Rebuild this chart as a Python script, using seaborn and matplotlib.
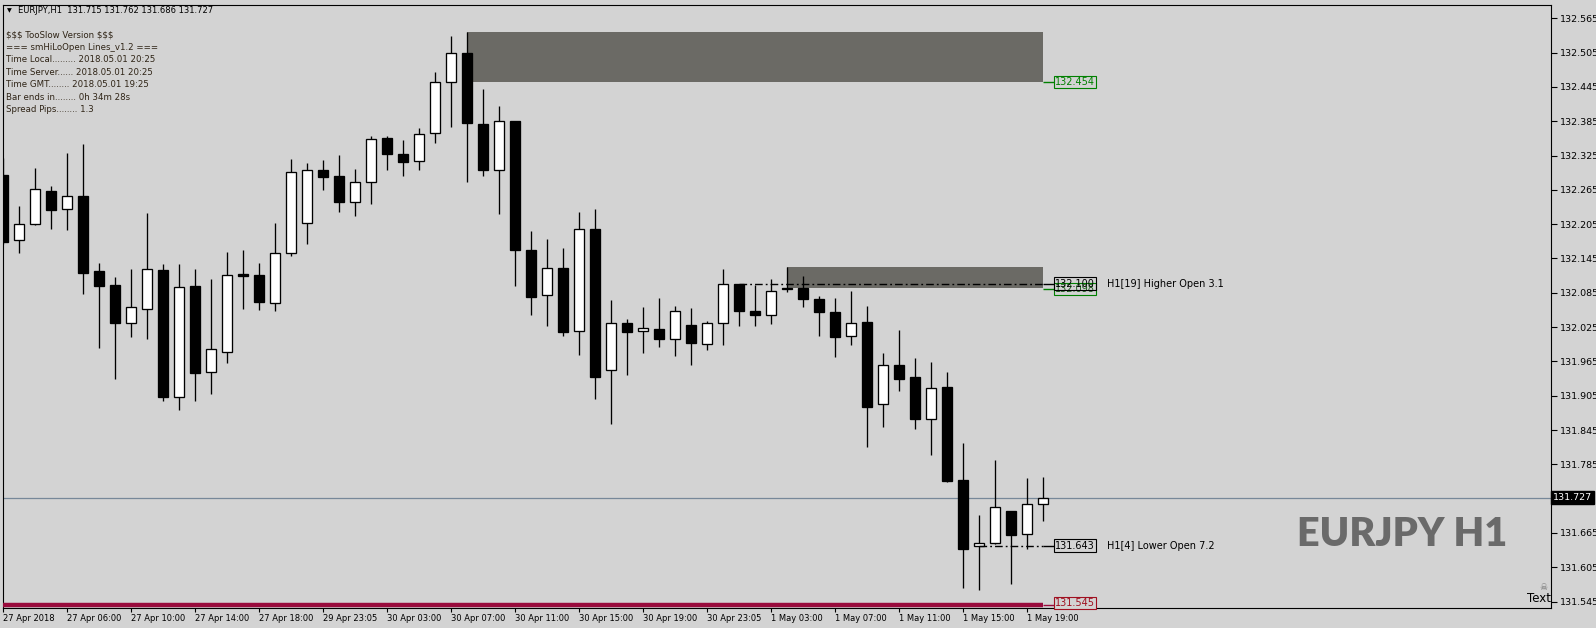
import numpy as np
import pandas as pd
import matplotlib
matplotlib.use("Agg")
import matplotlib.pyplot as plt
import seaborn as sns

# ---------------- data ----------------
symbol_header = "EURJPY,H1  131.715 131.762 131.686 131.727"
info_lines = [
    "$$$ TooSlow Version $$$",
    "=== smHiLoOpen Lines_v1.2 ===",
    "Time Local......... 2018.05.01 20:25",
    "Time Server...... 2018.05.01 20:25",
    "Time GMT........ 2018.05.01 19:25",
    "Bar ends in........ 0h 34m 28s",
    "Spread Pips........ 1.3",
]

opens = [132.291, 132.177, 132.205, 132.263, 132.231, 132.254, 132.123, 132.099, 132.033, 132.057,
         132.125, 131.903, 132.097, 131.946, 131.981, 132.118, 132.116, 132.068, 132.154, 132.207,
         132.299, 132.289, 132.243, 132.278, 132.356, 132.328, 132.315, 132.364, 132.453, 132.504,
         132.380, 132.299, 132.385, 132.159, 132.081, 132.128, 132.018, 132.196, 131.950, 132.032,
         132.019, 132.021, 132.005, 132.028, 131.996, 132.033, 132.100, 132.054, 132.047, 132.094,
         132.093, 132.075, 132.051, 132.009, 132.034, 131.891, 131.958, 131.938, 131.864, 131.920,
         131.758, 131.643, 131.647, 131.703, 131.663, 131.715]
highs = [132.320, 132.237, 132.303, 132.272, 132.329, 132.345, 132.137, 132.113, 132.127, 132.225,
         132.135, 132.135, 132.127, 132.109, 132.156, 132.160, 132.137, 132.207, 132.319, 132.312,
         132.317, 132.326, 132.301, 132.359, 132.359, 132.352, 132.373, 132.471, 132.534, 132.541,
         132.441, 132.412, 132.386, 132.193, 132.179, 132.163, 132.226, 132.232, 132.072, 132.039,
         132.060, 132.076, 132.062, 132.058, 132.035, 132.127, 132.101, 132.098, 132.109, 132.130,
         132.114, 132.079, 132.076, 132.088, 132.062, 131.980, 132.020, 131.971, 131.964, 131.947,
         131.822, 131.696, 131.793, 131.704, 131.761, 131.762]
lows = [132.170, 132.155, 132.204, 132.197, 132.194, 132.083, 131.989, 131.935, 132.007, 132.005,
        131.895, 131.880, 131.895, 131.908, 131.963, 132.057, 132.055, 132.054, 132.150, 132.171,
        132.265, 132.227, 132.220, 132.241, 132.300, 132.290, 132.300, 132.347, 132.375, 132.279,
        132.290, 132.223, 132.097, 132.047, 132.027, 132.010, 131.977, 131.900, 131.856, 131.942,
        131.980, 131.991, 131.975, 131.959, 131.985, 131.994, 132.027, 132.027, 132.031, 132.087,
        132.061, 132.010, 131.972, 131.993, 131.816, 131.851, 131.914, 131.847, 131.802, 131.755,
        131.568, 131.566, 131.645, 131.575, 131.637, 131.686]
closes = [132.174, 132.205, 132.266, 132.230, 132.254, 132.120, 132.097, 132.033, 132.060, 132.126,
          131.903, 132.095, 131.944, 131.987, 132.116, 132.115, 132.069, 132.154, 132.296, 132.299,
          132.288, 132.243, 132.278, 132.354, 132.328, 132.314, 132.363, 132.454, 132.504, 132.382,
          132.300, 132.385, 132.160, 132.078, 132.128, 132.017, 132.196, 131.938, 132.032, 132.017,
          132.023, 132.005, 132.053, 131.998, 132.033, 132.100, 132.054, 132.047, 132.089, 132.092,
          132.075, 132.052, 132.007, 132.033, 131.886, 131.958, 131.935, 131.864, 131.918, 131.756,
          131.637, 131.648, 131.710, 131.662, 131.715, 131.727]

xtick_labels = ["27 Apr 2018", "27 Apr 06:00", "27 Apr 10:00", "27 Apr 14:00", "27 Apr 18:00",
                "29 Apr 23:05", "30 Apr 03:00", "30 Apr 07:00", "30 Apr 11:00", "30 Apr 15:00",
                "30 Apr 19:00", "30 Apr 23:05", "1 May 03:00", "1 May 07:00", "1 May 11:00",
                "1 May 15:00", "1 May 19:00"]
ytick_labels = ["132.565", "132.505", "132.445", "132.385", "132.325", "132.265", "132.205",
                "132.145", "132.085", "132.025", "131.965", "131.905", "131.845", "131.785",
                "131.665", "131.605", "131.545"]

zone_starts = [29, 49]
zone_tops = [132.541, 132.130]
zone_bottoms = [132.454, 132.094]
zone_labels = ["132.454", "132.098"]

higher_open_bar, higher_open_price, higher_open_text = 46, 132.100, "H1[19] Higher Open 3.1"
lower_open_bar, lower_open_price, lower_open_text = 61, 131.643, "H1[4] Lower Open 7.2"
low_line_price = 131.545
current_price = 131.727
watermark = "EURJPY H1"

# ---------------- style ----------------
BG = "#d3d3d3"
sns.set_theme(style="white", rc={"axes.facecolor": BG, "figure.facecolor": BG})
plt.rcParams["font.family"] = ["DejaVu Sans"]
plt.rcParams["text.parse_math"] = False

df = pd.DataFrame({"o": opens, "h": highs, "l": lows, "c": closes})
df["x"] = np.arange(len(df))
df["bull"] = df["c"] >= df["o"]

W, H = 1596, 628
fig = plt.figure(figsize=(W / 100, H / 100), dpi=100)
ax_left, ax_right, ax_top, ax_bot = 2.7, 1550.5, 4.5, 607.5
ax = fig.add_axes([ax_left / W, 1 - ax_bot / H, (ax_right - ax_left) / W, (ax_bot - ax_top) / H])
ax.set_facecolor(BG)


def px_to_price(y):
    return 132.597 - 0.0017487 * y


ax.set_xlim(-0.03, (ax_right - 3.2) / 16.0)
ax.set_ylim(px_to_price(ax_bot), px_to_price(ax_top))

last = len(df) - 1

# zones
for s, t, b in zip(zone_starts, zone_tops, zone_bottoms):
    ax.fill_between([s, last], [b, b], [t, t], color="#6b6a65", lw=0, zorder=1)

# wicks
ax.vlines(df["x"], df["l"], df["h"], color="black", lw=0.95, zorder=2)
# bodies
body_bottom = np.minimum(df["o"], df["c"])
body_h = np.maximum(np.abs(df["c"] - df["o"]), 0.0012)
colors = np.where(df["bull"], "white", "black")
ax.bar(df["x"], body_h, bottom=body_bottom, width=0.6, color=colors,
       edgecolor="black", linewidth=0.95, zorder=3)

lab_x = 65.72
dd = (0, (5.5, 2.2, 1.3, 2.2))

# current price line
ax.axhline(current_price, color="#778899", lw=0.9, zorder=1.5)

# higher open line + zone-2 label (they overlap in the original)
ax.hlines(higher_open_price, higher_open_bar, last, color="black", lw=1.0, linestyles=[dd], zorder=4)
ax.hlines(higher_open_price, last, lab_x, color="black", lw=1.0, zorder=4)
ax.hlines(zone_bottoms[1] - 0.002, last, lab_x, color="green", lw=1.0, zorder=4)
ax.text(lab_x, zone_bottoms[1] - 0.002, zone_labels[1], fontsize=7, color="#1a5c1a", va="center", ha="left",
        bbox=dict(boxstyle="square,pad=0.12", fc=BG, ec="green", lw=0.8), zorder=5)
ax.text(lab_x, higher_open_price + 0.001, f"{higher_open_price:.3f}", fontsize=7, color="black", va="center",
        ha="left", bbox=dict(boxstyle="square,pad=0.12", fc="none", ec="black", lw=0.8), zorder=6)
ax.text(69.0, higher_open_price, higher_open_text, fontsize=7, color="black", va="center", ha="left")

ax.hlines(zone_bottoms[0], last, lab_x, color="green", lw=1.0, zorder=4)
ax.text(lab_x, zone_bottoms[0], zone_labels[0], fontsize=7, color="green", va="center", ha="left",
        bbox=dict(boxstyle="square,pad=0.12", fc=BG, ec="green", lw=0.8), zorder=5)

# lower open line
ax.hlines(lower_open_price, lower_open_bar, last, color="black", lw=1.0, linestyles=[dd], zorder=4)
ax.hlines(lower_open_price, last, lab_x, color="black", lw=1.0, zorder=4)
ax.text(lab_x, lower_open_price, f"{lower_open_price:.3f}", fontsize=7, color="black", va="center", ha="left",
        bbox=dict(boxstyle="square,pad=0.12", fc=BG, ec="black", lw=0.8), zorder=5)
ax.text(69.0, lower_open_price, lower_open_text, fontsize=7, color="black", va="center", ha="left")

# low line (thick maroon)
ax.hlines(low_line_price - 0.0052, -0.03, last, color="#990a3c", lw=3.2, zorder=4)
ax.hlines(low_line_price - 0.0052, last, lab_x, color="#990a3c", lw=1.0, zorder=4)
ax.text(lab_x, low_line_price - 0.002, f"{low_line_price:.3f}", fontsize=7, color="#a01020", va="center",
        ha="left", bbox=dict(boxstyle="square,pad=0.12", fc=BG, ec="#a01020", lw=0.8), zorder=5)

# watermark
fig.text(1297 / W, 1 - 535 / H, watermark, fontfamily=["Lato", "DejaVu Sans"],
         fontweight="heavy", fontsize=28.5, color="#6a6a6a", va="center", ha="left")

# "Text" marker with skull
fig.text(1527 / W, 1 - 598 / H, "Text", fontsize=8.5, color="black", va="center", ha="left")
fig.text(1543 / W, 1 - 587 / H, "\u2620", fontsize=6.5, color="#707070", va="center", ha="center")

# axes / ticks
for sp in ax.spines.values():
    sp.set_visible(True)
    sp.set_color("black")
    sp.set_linewidth(0.8)

ytick_vals = [float(s) for s in ytick_labels]
ax.yaxis.tick_right()
ax.set_yticks(ytick_vals, ytick_labels)
xtick_pos = [4 * i for i in range(len(xtick_labels))]
ax.set_xticks(xtick_pos, xtick_labels, ha="left")
ax.tick_params(axis="y", right=True, left=False, direction="out", length=4, width=0.8,
               labelsize=6.8, pad=2.5, colors="black")
ax.tick_params(axis="x", bottom=True, direction="out", length=3, width=0.8,
               labelsize=6.0, pad=1.5, colors="black")

# current price tag on axis
ax.text(1.0015, current_price, f"{current_price:.3f}", transform=ax.get_yaxis_transform(),
        fontsize=6.8, color="white", va="center", ha="left", clip_on=False,
        bbox=dict(boxstyle="square,pad=0.18", fc="black", ec="black"), zorder=10)

# header + info
fig.text(6.5 / W, 1 - 10.5 / H, "\u25BC", fontsize=4.5, color="black", va="center", ha="left")
fig.text(18.3 / W, 1 - 10.5 / H, symbol_header, fontsize=6.0, color="black", va="center", ha="left")
for i, line in enumerate(info_lines):
    fig.text(6.5 / W, 1 - (35 + 12.4 * i) / H, line, fontsize=6.2, color="#2f2416", va="center", ha="left")

fig.savefig("out.png", dpi=100, facecolor=BG)
